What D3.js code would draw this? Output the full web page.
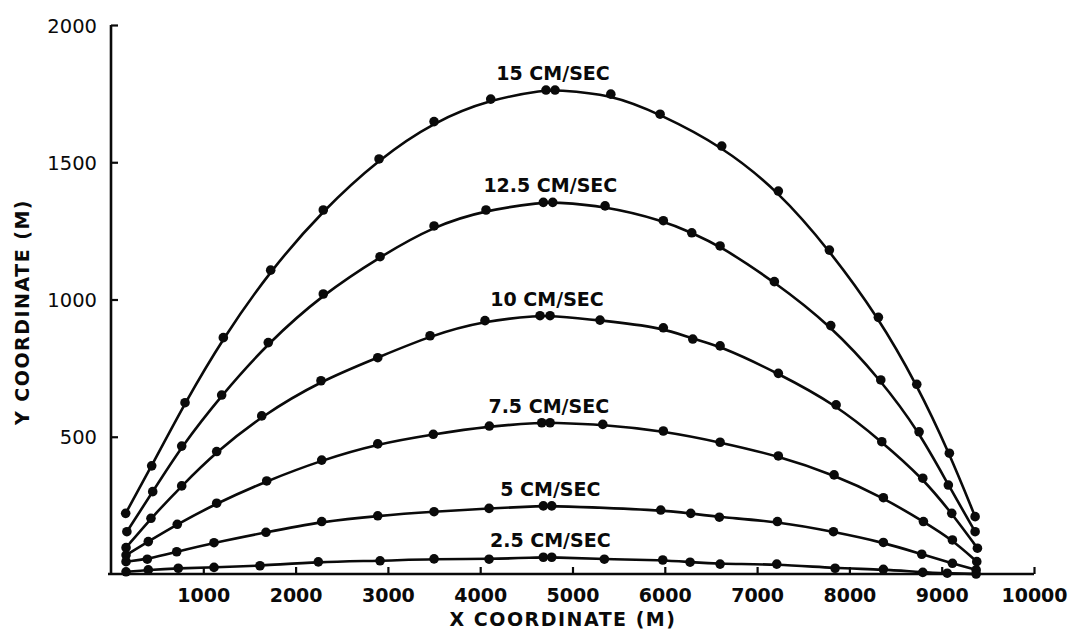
<!DOCTYPE html>
<html>
<head>
<meta charset="utf-8">
<script src="https://cdn.jsdelivr.net/npm/d3@7"></script>
<style>
  html, body { margin: 0; padding: 0; background: #fff; }
  svg { display: block; }
</style>
</head>
<body>
<svg id="chart" width="1091" height="632"></svg>
<script>
// Current speeds (cm/sec) labelling each trajectory
const speedLabels = ["15 CM/SEC", "12.5 CM/SEC", "10 CM/SEC", "7.5 CM/SEC", "5 CM/SEC", "2.5 CM/SEC"];

// Trajectory points, X and Y coordinates in metres
const x15 = [159, 441, 802, 1217, 1730, 2300, 2904, 3500, 4114, 4713, 4811, 5415, 5949, 6617, 7230, 7783, 8314, 8730, 9083, 9362];
const y15 = [221, 394, 624, 861, 1107, 1326, 1512, 1648, 1730, 1763, 1763, 1748, 1675, 1559, 1395, 1180, 935, 691, 440, 209];

const x125 = [172, 452, 766, 1199, 1704, 2300, 2915, 3500, 4063, 4684, 4786, 5353, 5984, 6292, 6599, 7187, 7798, 8340, 8755, 9072, 9362];
const y125 = [154, 300, 466, 652, 843, 1020, 1156, 1268, 1326, 1354, 1354, 1341, 1287, 1243, 1195, 1065, 905, 707, 518, 324, 154];

const x10 = [163, 433, 766, 1145, 1633, 2275, 2890, 3457, 4052, 4648, 4757, 5298, 5984, 6303, 6599, 7230, 7856, 8351, 8795, 9109, 9387];
const y10 = [96, 203, 321, 446, 576, 704, 788, 868, 923, 941, 941, 925, 897, 856, 831, 731, 616, 482, 349, 221, 94];

const x75 = [163, 404, 718, 1145, 1687, 2283, 2890, 3492, 4099, 4667, 4757, 5328, 5984, 6599, 7230, 7834, 8368, 8802, 9116, 9380];
const y75 = [69, 118, 181, 258, 339, 415, 474, 509, 539, 551, 551, 545, 521, 480, 430, 361, 278, 191, 124, 45];

const x5 = [163, 393, 712, 1116, 1679, 2283, 2890, 3500, 4096, 4684, 4775, 5956, 6281, 6591, 7220, 7827, 8368, 8784, 9116, 9373];
const y5 = [45, 54, 81, 114, 152, 191, 212, 227, 239, 248, 248, 233, 221, 207, 191, 154, 115, 72, 39, 15];

const x25 = [163, 404, 729, 1116, 1614, 2246, 2915, 3500, 4096, 4684, 4775, 5345, 5978, 6274, 6599, 7213, 7845, 8368, 8795, 9060, 9373];
const y25 = [8, 15, 21, 24, 30, 44, 48, 55, 54, 61, 61, 54, 51, 43, 36, 36, 21, 17, 6, 3, 0];

// Axis ticks
const xTicks = [1000, 2000, 3000, 4000, 5000, 6000, 7000, 8000, 9000, 10000];
const yTicks = [500, 1000, 1500, 2000];

const seriesX = [x15, x125, x10, x75, x5, x25];
const seriesY = [y15, y125, y10, y75, y5, y25];
const series = seriesX.map((xs, i) => ({
  label: speedLabels[i],
  points: xs.map((x, j) => [x, seriesY[i][j]])
}));

const svg = d3.select("#chart");
const ink = "#0a0a0a";
const font = "'DejaVu Sans', sans-serif";

const x = d3.scaleLinear().domain([0, 10000]).range([111, 1034]);
const y = d3.scaleLinear().domain([0, 2000]).range([574, 25]);

// Axes
const xAxis = d3.axisBottom(x).tickValues(xTicks).tickSize(-7).tickPadding(15)
  .tickFormat(d3.format("d"));
const gx = svg.append("g").attr("transform", `translate(0,${y(0)})`).call(xAxis);
gx.select(".domain").attr("d", `M${x(0) - 3},0H${x(10000)}`)
  .attr("stroke", ink).attr("stroke-width", 2.6);
gx.selectAll(".tick line").attr("stroke", ink).attr("stroke-width", 2.2);
gx.selectAll(".tick text")
  .attr("fill", ink)
  .attr("font-family", font)
  .attr("font-weight", "bold")
  .attr("font-size", 19)
  .attr("dy", "0.71em");

const yAxis = d3.axisLeft(y).tickValues(yTicks).tickSize(-7).tickPadding(14)
  .tickFormat(d3.format("d"));
const gy = svg.append("g").attr("transform", `translate(${x(0)},0)`).call(yAxis);
gy.select(".domain").attr("d", `M0,${y(2000)}V${y(0) + 1}`)
  .attr("stroke", ink).attr("stroke-width", 2.6);
gy.selectAll(".tick line").attr("stroke", ink).attr("stroke-width", 2.2);
gy.selectAll(".tick text")
  .attr("fill", ink)
  .attr("font-family", font)
  .attr("font-size", 19.5)
  .attr("dy", "0.36em");

// Axis titles
svg.append("text")
  .attr("x", 563).attr("y", 626)
  .attr("text-anchor", "middle")
  .attr("font-family", font)
  .attr("font-weight", "bold")
  .attr("font-size", 19)
  .attr("letter-spacing", 1.5)
  .attr("fill", ink)
  .text("X COORDINATE (M)");

svg.append("text")
  .attr("transform", "translate(29,312) rotate(-90)")
  .attr("text-anchor", "middle")
  .attr("font-family", font)
  .attr("font-weight", "bold")
  .attr("font-size", 19)
  .attr("letter-spacing", 1.5)
  .attr("fill", ink)
  .text("Y COORDINATE (M)");

// Trajectories, drawn as smooth curves through the plotted points
const line = d3.line()
  .x(d => x(d[0]))
  .y(d => y(d[1]))
  .curve(d3.curveBasis);

const g = svg.append("g");
series.forEach(s => {
  g.append("path")
    .attr("d", line(s.points))
    .attr("fill", "none")
    .attr("stroke", ink)
    .attr("stroke-width", 2.6)
    .attr("stroke-linejoin", "round");

  g.selectAll(null)
    .data(s.points)
    .enter().append("circle")
    .attr("cx", d => x(d[0]))
    .attr("cy", d => y(d[1]))
    .attr("r", 4.8)
    .attr("fill", ink);

  // Label above the crest of each trajectory
  const crest = s.points.reduce((a, b) => (b[1] > a[1] ? b : a));
  g.append("text")
    .attr("x", x(crest[0]) + 7)
    .attr("y", y(crest[1]) - 10)
    .attr("text-anchor", "middle")
    .attr("font-family", font)
    .attr("font-weight", "bold")
    .attr("font-size", 19)
    .attr("fill", ink)
    .text(s.label);
});
</script>
</body>
</html>
